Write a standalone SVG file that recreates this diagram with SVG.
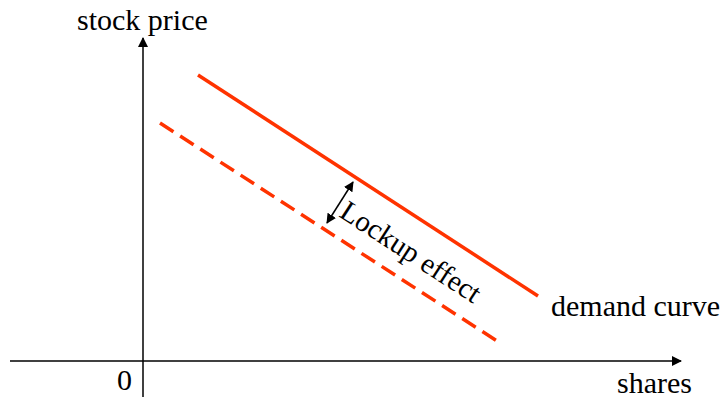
<svg xmlns="http://www.w3.org/2000/svg" width="725" height="400" viewBox="0 0 725 400">
<style>
text{font-family:"Liberation Serif","Times New Roman",serif;fill:#000}
.ax{stroke:#000;stroke-width:1.5;fill:none}
.curve{stroke:#ff3300;stroke-width:3.5;fill:none}
.dash{stroke-dasharray:16,8}
</style>
<defs>
<marker id="ah" viewBox="0 0 10 10" refX="9" refY="5" markerWidth="10" markerHeight="10" markerUnits="userSpaceOnUse" orient="auto-start-reverse"><path d="M0,0 L10,5 L0,10 z" fill="#000"/></marker>
</defs>
<g id="connectors">
<line class="ax" x1="143" y1="397" x2="143" y2="38" marker-end="url(#ah)"/>
<line class="ax" x1="10" y1="361" x2="681" y2="361" marker-end="url(#ah)"/>
<line class="curve" x1="198" y1="75" x2="538" y2="296"/>
<line class="curve dash" x1="160" y1="123" x2="497" y2="341"/>
<line class="ax" x1="353" y1="182" x2="327" y2="223" marker-start="url(#ah)" marker-end="url(#ah)"/>
</g>
<g id="labels">
<text x="77" y="30" font-size="30">stock price</text>
<text x="551" y="316" font-size="30">demand curve</text>
<text x="117" y="390" font-size="30">0</text>
<text x="617" y="393" font-size="30">shares</text>
<text transform="translate(338,216) rotate(33)" font-size="29" font-family="'DejaVu Serif',serif">Lockup effect</text>
</g>
</svg>
